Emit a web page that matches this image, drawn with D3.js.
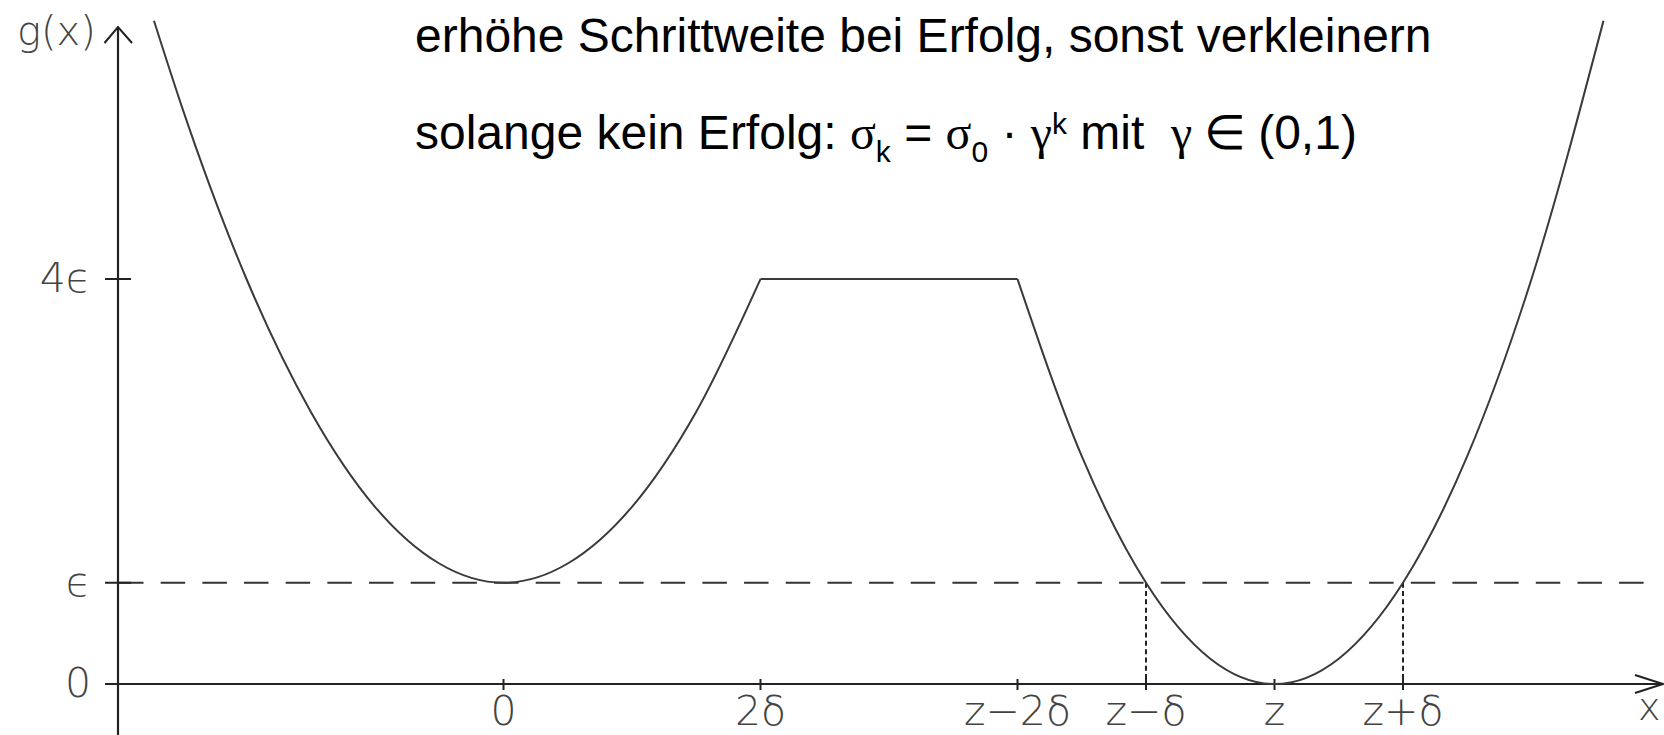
<!DOCTYPE html>
<html>
<head>
<meta charset="utf-8">
<script src="https://cdn.jsdelivr.net/npm/d3@7"></script>
<style>
html,body{margin:0;padding:0;background:#fff;}
svg{display:block;}
</style>
</head>
<body>
<script>
// ---- data (x in units of δ, y in units of ε) ----
const leftX  = [-2.72, -2.5, -2, -1.5, -1, -0.5, 0, 0.5, 1, 1.5, 2];
const leftY  = [6.55, 5.69, 4, 2.69, 1.75, 1.19, 1, 1.19, 1.75, 2.69, 4];
const plateauX = [2, 4];
const plateauY = [4, 4];
const rightX = [4, 4.5, 5, 5.5, 6, 6.5, 7, 7.5, 8, 8.56];
const rightY = [4, 2.25, 1, 0.25, 0, 0.25, 1, 2.25, 4, 6.55];
const xTickVals = [0, 2, 4, 5, 6, 7];
const xTickLabels = ["0", "2δ", "z−2δ", "z−δ", "z", "z+δ"];
const yTickVals = [0, 1, 4];
const yTickLabels = ["0", "ϵ", "4ϵ"];
const epsLevel = 1;
const dottedX = [5, 7];
const line1 = "erhöhe Schrittweite bei Erfolg, sonst verkleinern";

const W = 1664, H = 735;
const x = d3.scaleLinear().domain([-3, 0]).range([118, 503.5]);
const y = d3.scaleLinear().domain([0, 4]).range([684, 279]);

const svg = d3.select("body").append("svg").attr("width", W).attr("height", H);
svg.append("rect").attr("width", W).attr("height", H).attr("fill", "#fff");

const axisColor = "#222";
const labelFont = "'DejaVu Sans', sans-serif";

// dashed epsilon line
svg.append("line")
  .attr("x1", 119).attr("x2", 1644)
  .attr("y1", y(epsLevel)).attr("y2", y(epsLevel))
  .attr("stroke", "#333").attr("stroke-width", 2)
  .attr("stroke-dasharray", "24.5,17.17");

// dotted verticals
svg.selectAll(".dot").data(dottedX).enter().append("line")
  .attr("x1", d => x(d)).attr("x2", d => x(d))
  .attr("y1", y(epsLevel)).attr("y2", y(0))
  .attr("stroke", "#222").attr("stroke-width", 2)
  .attr("stroke-dasharray", "5,3.3");

// axes
const x0 = x(-3);
svg.append("line").attr("x1", 105).attr("x2", 1663).attr("y1", y(0)).attr("y2", y(0))
  .attr("stroke", axisColor).attr("stroke-width", 2.2);
svg.append("line").attr("x1", x0).attr("x2", x0).attr("y1", 27).attr("y2", H)
  .attr("stroke", axisColor).attr("stroke-width", 2.2);
// arrowheads
svg.append("path").attr("d", `M${x0-13.5},43 L${x0},27 L${x0+14},43`)
  .attr("fill", "none").attr("stroke", axisColor).attr("stroke-width", 2);
svg.append("path").attr("d", `M1635,675 L1663,${y(0)} L1635,693`)
  .attr("fill", "none").attr("stroke", axisColor).attr("stroke-width", 2);

// ticks
svg.selectAll(".xt").data(xTickVals).enter().append("line")
  .attr("x1", d => x(d)).attr("x2", d => x(d))
  .attr("y1", y(0) - 5).attr("y2", y(0) + 6)
  .attr("stroke", axisColor).attr("stroke-width", 2);
svg.selectAll(".yt").data(yTickVals).enter().append("line")
  .attr("x1", 105).attr("x2", 131)
  .attr("y1", d => y(d)).attr("y2", d => y(d))
  .attr("stroke", axisColor).attr("stroke-width", 2);

// curve
const lineGen = d3.line().x(d => x(d[0])).y(d => y(d[1])).curve(d3.curveMonotoneX);
const segs = [
  d3.zip(leftX, leftY),
  d3.zip(plateauX, plateauY),
  d3.zip(rightX, rightY)
];
svg.selectAll(".seg").data(segs).enter().append("path")
  .attr("d", lineGen)
  .attr("fill", "none").attr("stroke", "#3a3a3a").attr("stroke-width", 2)
  .attr("stroke-linejoin", "round");

// tick labels
svg.selectAll(".xl").data(xTickVals).enter().append("text")
  .attr("x", d => x(d)).attr("y", 725)
  .attr("text-anchor", "middle")
  .attr("font-family", labelFont).attr("font-size", 41).attr("font-weight", 200)
  .attr("fill", "#444")
  .text((d, i) => xTickLabels[i]);
svg.selectAll(".yl").data(yTickVals).enter().append("text")
  .attr("x", 91).attr("y", d => y(d) + 13)
  .attr("text-anchor", "end")
  .attr("font-family", labelFont).attr("font-size", 41).attr("font-weight", 200)
  .attr("fill", "#444")
  .text((d, i) => yTickLabels[i]);

// axis titles
svg.append("text").attr("x", 17).attr("y", 45)
  .attr("font-family", labelFont).attr("font-size", 40).attr("font-weight", 200)
  .attr("fill", "#444").text("g(x)");
svg.append("text").attr("x", 1638).attr("y", 720)
  .attr("font-family", labelFont).attr("font-size", 38).attr("font-weight", 200)
  .attr("fill", "#444").text("x");

// annotation
const sans = "'Liberation Sans', Arial, sans-serif";
const serif = "'Liberation Serif', 'Times New Roman', serif";
svg.append("text").attr("x", 415).attr("y", 52)
  .attr("font-family", sans).attr("font-size", 48).attr("fill", "#000")
  .text(line1);

const t2 = svg.append("text").attr("x", 415).attr("y", 149)
  .attr("font-family", sans).attr("font-size", 48).attr("fill", "#000");
const parts = [
  {t: "solange kein Erfolg: ", f: sans},
  {t: "σ", f: serif},
  {t: "k", f: sans, s: 30, dy: 13},
  {t: " = ", f: sans, dy: -13},
  {t: "σ", f: serif},
  {t: "0", f: sans, s: 30, dy: 13},
  {t: " · ", f: sans, dy: -13},
  {t: "γ", f: serif},
  {t: "k", f: sans, s: 30, dy: -15},
  {t: " mit\u00a0\u00a0", f: sans, dy: 15},
  {t: "γ", f: serif},
  {t: " ∈ ", f: serif},
  {t: "(0,1)", f: sans}
];
parts.forEach(p => {
  const ts = t2.append("tspan").attr("font-family", p.f).text(p.t);
  if (p.s) ts.attr("font-size", p.s);
  if (p.dy) ts.attr("dy", p.dy);
});
</script>
</body>
</html>
